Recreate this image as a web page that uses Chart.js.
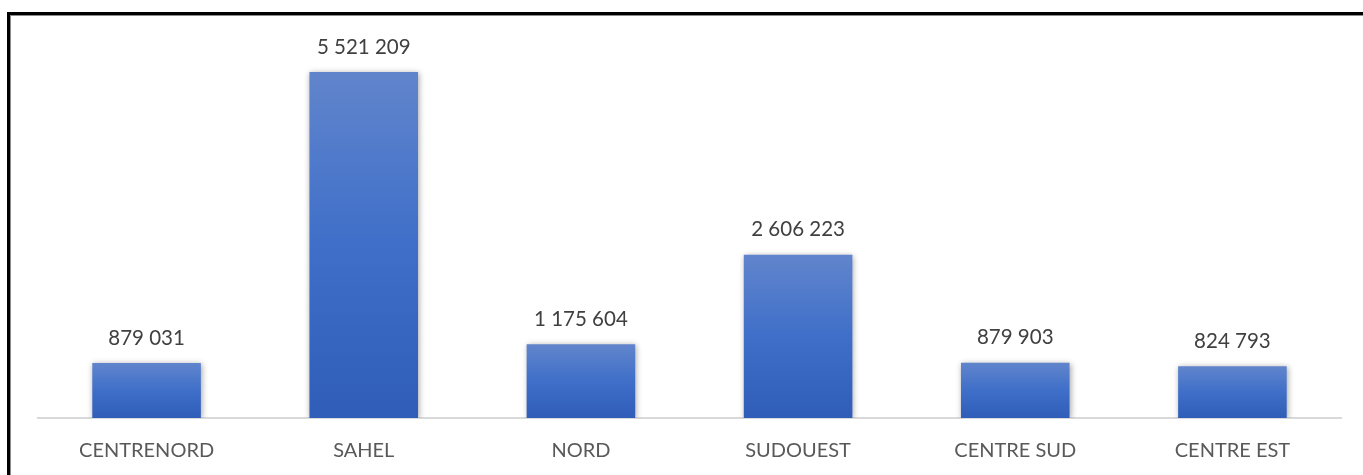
<!DOCTYPE html>
<html>
<head>
<meta charset="utf-8">
<script src="https://cdn.jsdelivr.net/npm/chart.js@4"></script>
<style>
  html, body { margin: 0; padding: 0; background: #fff; overflow: hidden; }
  #wrap { position: relative; width: 1363px; height: 475px; }
  #frame { position: absolute; left: 7px; top: 12px; width: 1400px; height: 500px;
           border-left: 3px solid #000; border-top: 3px solid #000;
           box-shadow: inset 1px 1px 0 #8c8c8c; pointer-events: none; }
</style>
</head>
<body>
<div id="wrap">
  <canvas id="myChart" width="1363" height="475"></canvas>
  <div id="frame"></div>
</div>
<script>
var regions = ["CENTRENORD", "SAHEL", "NORD", "SUDOUEST", "CENTRE SUD", "CENTRE EST"];
var population = [879031, 5521209, 1175604, 2606223, 879903, 824793];

function fmt(n) {
  return String(n).replace(/\B(?=(\d{3})+(?!\d))/g, " ");
}

function barFill(context) {
  var chart = context.chart;
  var y = chart.scales.y;
  if (!y || !chart.chartArea) return "#4472c4";
  var top = y.getPixelForValue(context.raw);
  var base = y.getPixelForValue(0);
  var g = chart.ctx.createLinearGradient(0, top, 0, base);
  g.addColorStop(0, "#6185cc");
  g.addColorStop(0.5, "#3f6fc9");
  g.addColorStop(1, "#2f5db8");
  return g;
}

var shadowPlugin = {
  id: "barShadow",
  beforeDatasetsDraw: function (chart) {
    var c = chart.ctx;
    c.save();
    c.shadowColor = "rgba(0,0,0,0.35)";
    c.shadowBlur = 6;
    c.shadowOffsetX = 1;
    c.shadowOffsetY = 1;
  },
  afterDatasetsDraw: function (chart) {
    chart.ctx.restore();
  }
};

var valueLabels = {
  id: "valueLabels",
  afterDraw: function (chart) {
    var c = chart.ctx;
    var meta = chart.getDatasetMeta(0);
    c.save();
    c.font = "20.5px Lato, 'Open Sans', sans-serif";
    c.fillStyle = "#404040";
    c.textAlign = "center";
    c.textBaseline = "middle";
    meta.data.forEach(function (bar, i) {
      c.fillText(fmt(population[i]), bar.x, bar.y - 25);
    });
    c.restore();
  }
};

var ctx = document.getElementById("myChart").getContext("2d");
var myChart = new Chart(ctx, {
  type: "bar",
  data: {
    labels: regions,
    datasets: [{
      data: population,
      backgroundColor: barFill,
      borderWidth: 0,
      barPercentage: 0.5,
      categoryPercentage: 1
    }]
  },
  options: {
    responsive: false,
    animation: false,
    layout: { padding: { left: 38, right: 22, top: 42, bottom: 0 } },
    plugins: { legend: { display: false }, tooltip: { enabled: false } },
    scales: {
      x: {
        grid: { display: false, drawTicks: false },
        border: { display: true, color: "#d9d9d9", width: 2 },
        ticks: { color: "#595959", padding: 21, font: { family: "Lato, 'Open Sans', sans-serif", size: 20 } },
        afterFit: function (scale) { scale.height = 57; }
      },
      y: {
        display: false,
        min: 0,
        max: 6000000
      }
    }
  },
  plugins: [shadowPlugin, valueLabels]
});
</script>
</body>
</html>
